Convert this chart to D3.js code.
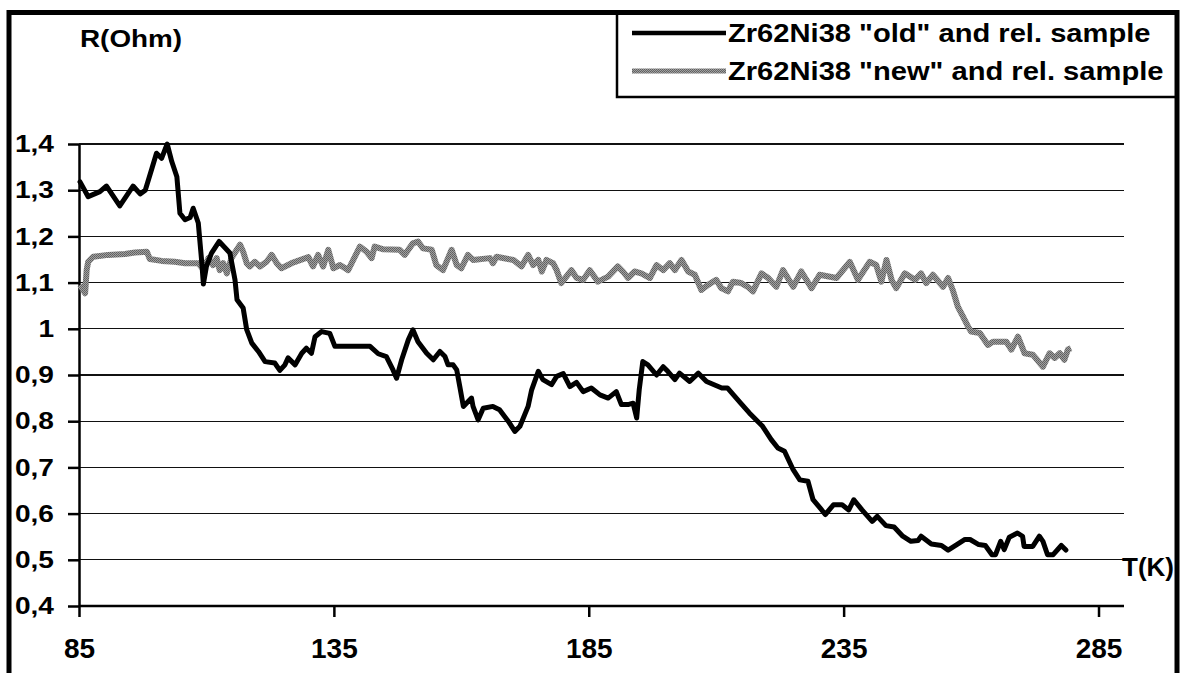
<!DOCTYPE html>
<meta charset="utf-8">
<style>
body { margin: 0; background: #fff; }
text { font-family: "Liberation Sans", Arial, sans-serif; font-weight: bold; fill: #000; }
.axis path { stroke: #000; stroke-width: 2.5; }
.axis line { stroke: #000; stroke-width: 2.5; }
.grid line { stroke: #111; stroke-width: 1.3; shape-rendering: crispEdges; }
</style>
<svg width="1182" height="673"></svg>
<script src="https://cdn.jsdelivr.net/npm/d3@7"></script>
<script>

// temperature (K) / resistance (Ohm)
var oldT = [85.2,86.8,89.1,90.4,93.0,95.6,97.0,98.0,99.3,100.2,101.2,102.3,103.2,104.2,104.8,105.8,106.8,107.4,108.4,109.1,109.4,110.0,111.0,112.5,114.6,115.6,116.0,117.2,117.9,118.9,120.2,121.5,123.4,124.4,125.4,126.0,127.4,128.7,129.6,130.6,131.3,132.6,134.2,135.2,142.1,143.7,145.3,146.6,147.3,148.3,149.6,150.5,151.5,153.2,154.5,155.8,156.8,157.4,158.4,159.1,159.7,160.4,162.0,162.3,163.3,164.3,166.2,167.5,169.2,170.5,171.5,173.1,173.8,175.1,176.0,177.7,178.7,180.0,181.3,182.6,183.9,185.5,187.2,188.8,190.4,191.4,192.7,193.7,194.4,194.9,195.6,196.6,198.3,199.6,200.5,201.9,202.8,204.8,206.5,208.1,211.1,212.2,214.8,216.5,219.1,220.8,222.1,223.4,225.1,226.4,228.0,229.0,230.7,231.4,233.0,234.7,236.0,237.0,238.6,240.6,241.6,243.3,244.9,246.6,248.2,249.6,250.2,252.2,254.2,255.5,257.2,258.8,259.8,261.5,262.8,264.1,264.8,265.8,266.5,267.5,269.1,270.1,270.4,272.1,273.4,274.1,275.0,276.1,277.7,278.6];
var oldR = [1.318,1.286,1.297,1.309,1.266,1.309,1.292,1.300,1.347,1.380,1.369,1.400,1.362,1.329,1.250,1.236,1.241,1.261,1.229,1.142,1.097,1.135,1.164,1.189,1.164,1.106,1.063,1.045,0.998,0.969,0.951,0.929,0.926,0.910,0.922,0.937,0.922,0.947,0.958,0.947,0.983,0.994,0.990,0.962,0.962,0.946,0.940,0.911,0.893,0.933,0.976,0.998,0.972,0.947,0.933,0.951,0.940,0.922,0.922,0.911,0.875,0.832,0.850,0.832,0.803,0.828,0.832,0.825,0.800,0.778,0.789,0.832,0.868,0.908,0.890,0.879,0.897,0.903,0.875,0.884,0.864,0.872,0.857,0.850,0.864,0.836,0.836,0.839,0.807,0.868,0.929,0.922,0.900,0.918,0.908,0.890,0.904,0.886,0.904,0.886,0.872,0.872,0.839,0.818,0.789,0.760,0.742,0.735,0.695,0.673,0.670,0.630,0.608,0.598,0.619,0.619,0.608,0.630,0.608,0.583,0.594,0.574,0.571,0.551,0.540,0.542,0.551,0.534,0.531,0.521,0.533,0.544,0.544,0.533,0.531,0.511,0.511,0.540,0.522,0.549,0.558,0.551,0.529,0.529,0.551,0.540,0.511,0.511,0.531,0.521];

var newT = [85.2,86.2,86.5,86.8,87.8,90.7,94.0,96.0,98.3,98.9,101.2,103.8,105.8,108.4,109.4,110.4,111.3,112.0,112.6,113.3,114.0,114.9,116.6,117.2,117.9,118.5,119.5,120.5,121.8,122.8,123.8,124.7,126.7,130.0,130.9,131.9,132.9,133.9,134.9,136.2,137.8,140.1,141.4,142.4,143.0,144.7,147.9,148.9,149.6,150.5,151.5,152.5,154.2,155.1,156.4,158.1,159.1,160.0,161.3,162.3,165.6,166.2,166.9,170.2,171.8,173.1,174.1,175.1,175.8,176.7,178.0,178.7,179.6,181.6,182.6,183.9,185.2,186.8,188.8,190.7,191.7,192.7,194.0,195.3,197.0,198.3,199.6,200.9,201.9,203.2,204.5,205.8,207.1,208.4,210.0,211.0,212.3,213.3,214.9,216.2,217.2,218.9,220.2,221.8,223.1,225.1,226.7,228.7,230.3,233.6,236.2,237.8,240.1,241.4,242.4,243.4,244.4,245.3,247.0,249.0,250.2,251.2,252.5,254.5,255.5,256.4,257.4,258.4,259.4,260.0,261.7,263.3,264.3,266.9,267.9,269.2,270.5,272.1,274.1,275.4,276.4,277.4,278.3,279.0,279.6];
var newR = [1.095,1.077,1.127,1.145,1.156,1.160,1.162,1.165,1.167,1.151,1.147,1.145,1.142,1.142,1.129,1.153,1.138,1.153,1.127,1.142,1.120,1.153,1.182,1.167,1.142,1.135,1.145,1.135,1.145,1.160,1.142,1.131,1.142,1.155,1.135,1.160,1.135,1.171,1.131,1.138,1.127,1.178,1.167,1.153,1.178,1.172,1.171,1.160,1.171,1.185,1.189,1.174,1.171,1.138,1.127,1.171,1.138,1.131,1.160,1.149,1.153,1.142,1.156,1.149,1.135,1.160,1.138,1.149,1.124,1.149,1.142,1.127,1.099,1.127,1.110,1.106,1.127,1.102,1.113,1.135,1.124,1.110,1.124,1.120,1.110,1.138,1.127,1.142,1.127,1.149,1.124,1.117,1.084,1.095,1.106,1.088,1.081,1.102,1.099,1.091,1.081,1.120,1.110,1.091,1.127,1.091,1.124,1.088,1.117,1.110,1.145,1.106,1.145,1.138,1.102,1.149,1.106,1.088,1.120,1.106,1.120,1.099,1.117,1.091,1.110,1.084,1.048,1.027,1.005,0.994,0.991,0.965,0.972,0.972,0.955,0.983,0.947,0.944,0.918,0.947,0.937,0.947,0.933,0.955,0.958];

var xTicks = [85, 135, 185, 235, 285];
var yTicks = [0.4, 0.5, 0.6, 0.7, 0.8, 0.9, 1.0, 1.1, 1.2, 1.3, 1.4];
var seriesNames = ['Zr62Ni38 "old" and rel. sample', 'Zr62Ni38 "new" and rel. sample'];

var svg = d3.select("svg");

// checker texture for the grey series
var pat = svg.append("defs").append("pattern")
    .attr("id", "dither").attr("patternUnits", "userSpaceOnUse")
    .attr("width", 2).attr("height", 2);
pat.append("rect").attr("width", 2).attr("height", 2).attr("fill", "#a0a0a0");
pat.append("rect").attr("width", 1).attr("height", 1).attr("fill", "#5e5e5e");
pat.append("rect").attr("x", 1).attr("y", 1).attr("width", 1).attr("height", 1).attr("fill", "#686868");

var x = d3.scaleLinear().domain([85, 290]).range([79, 1124]);
var y = d3.scaleLinear().domain([0.4, 1.4]).range([606, 144]);

function stretch(sel, k) {
  sel.each(function () {
    var w = this.getComputedTextLength();
    d3.select(this).attr("textLength", w * k).attr("lengthAdjust", "spacingAndGlyphs");
  });
}

// gridlines
svg.append("g").attr("class", "grid")
  .selectAll("line").data(yTicks.slice(1)).enter().append("line")
  .attr("x1", x(85)).attr("x2", x(290))
  .attr("y1", function (d) { return y(d); })
  .attr("y2", function (d) { return y(d); });

// axes
var xAxis = svg.append("g").attr("class", "axis")
    .attr("transform", "translate(0," + y(0.4) + ")")
    .call(d3.axisBottom(x).tickValues(xTicks).tickSize(11).tickSizeOuter(0));
xAxis.selectAll("text").attr("y", 52).attr("dy", null).style("font-size", "28px");
xAxis.select("path").attr("d", "M" + x(85) + ",0H" + x(290));

var yAxis = svg.append("g").attr("class", "axis")
    .attr("transform", "translate(" + x(85) + ",0)")
    .call(d3.axisLeft(y).tickValues(yTicks).tickSize(11).tickSizeOuter(0)
      .tickFormat(function (d) { return d3.format("~g")(d).replace(".", ","); }));
yAxis.selectAll("text").attr("x", -25).style("font-size", "24px");
stretch(yAxis.selectAll("text"), 1.17);

// series
var line = d3.line()
    .x(function (d) { return x(d[0]); })
    .y(function (d) { return y(d[1]); });

svg.append("path")
  .datum(d3.zip(newT, newR))
  .attr("d", line)
  .attr("fill", "none").attr("stroke", "url(#dither)")
  .attr("stroke-width", 6).attr("stroke-linejoin", "round");

svg.append("path")
  .datum(d3.zip(oldT, oldR))
  .attr("d", line)
  .attr("fill", "none").attr("stroke", "#000")
  .attr("stroke-width", 5).attr("stroke-linejoin", "round").attr("stroke-linecap", "round");

// axis titles
var rt = svg.append("text").attr("x", 80).attr("y", 47).style("font-size", "24px").text("R(Ohm)");
stretch(rt, 1.16);
svg.append("text").attr("x", 1122).attr("y", 576).style("font-size", "26px").text("T(K)");

// legend
var lg = svg.append("g");
lg.append("rect").attr("x", 617).attr("y", 12).attr("width", 560).attr("height", 85)
  .attr("fill", "#fff").attr("stroke", "#000").attr("stroke-width", 2.5);
var rows = lg.selectAll("g.row").data(seriesNames).enter().append("g")
  .attr("transform", function (d, i) { return "translate(0," + (33 + i * 38) + ")"; });
rows.append("line").attr("x1", 632).attr("x2", 726)
  .attr("stroke", function (d, i) { return i ? "url(#dither)" : "#000"; })
  .attr("stroke-width", function (d, i) { return i ? 5 : 4.5; });
var lt = rows.append("text").attr("x", 728).attr("dy", "0.35em").style("font-size", "26px")
  .text(function (d) { return d; });
stretch(lt, 1.12);

// outer frame
svg.append("rect").attr("x", 9).attr("y", 12.5).attr("width", 1168).attr("height", 680)
  .attr("fill", "none").attr("stroke", "#000").attr("stroke-width", 5);

</script>
